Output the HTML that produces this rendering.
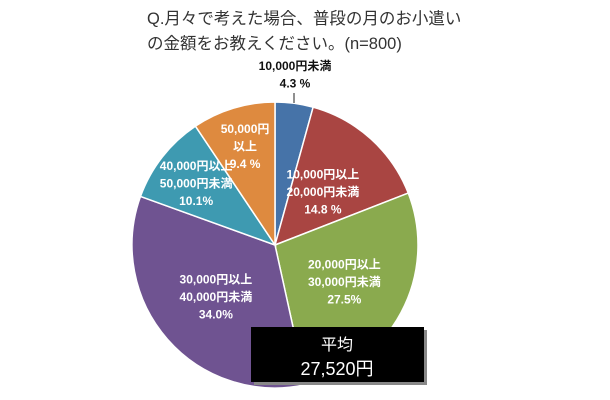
<!DOCTYPE html>
<html><head><meta charset="utf-8"><style>
body{margin:0;background:#fff;width:610px;height:400px;overflow:hidden;font-family:"Liberation Sans","Noto Sans CJK JP",sans-serif;}
</style></head><body>
<svg width="610" height="400" style="position:absolute;left:0;top:0">
<text x="147" y="24" font-size="16.5" fill="#333">Q.月々で考えた場合、普段の月のお小遣い</text>
<text x="147" y="49" font-size="16.5" fill="#333">の金額をお教えください。(n=800)</text>
<g id="slices"></g>
<line x1="294" y1="93" x2="294" y2="103" stroke="#222" stroke-width="1"/>
<g id="labels" font-size="12" font-weight="bold" text-anchor="middle"></g>
<rect x="254" y="330" width="173" height="55" fill="#888"/>
<rect x="251" y="327" width="173" height="55" fill="#000"/>
<text x="337" y="350" font-size="16" fill="#fff" text-anchor="middle">平均</text>
<text x="337" y="375" font-size="18" fill="#fff" text-anchor="middle">27,520円</text>
</svg>
<script>
const categories=["10,000円未満","10,000円以上20,000円未満","20,000円以上30,000円未満","30,000円以上40,000円未満","40,000円以上50,000円未満","50,000円以上"];
const values=[4.3,14.8,27.5,34.0,10.1,9.4];
const valueLabels=["4.3 %","14.8 %","27.5%","34.0%","10.1%","9.4 %"];
const labelLines=[["10,000円未満"],["10,000円以上","20,000円未満"],["20,000円以上","30,000円未満"],["30,000円以上","40,000円未満"],["40,000円以上","50,000円未満"],["50,000円","以上"]];
const colors=["#4673a8","#a94542","#8aaa4e","#6f5391","#3e9ab1","#de8a3f"];
const cx=275,cy=245,r=143;
const ns="http://www.w3.org/2000/svg";
const total=values.reduce((a,b)=>a+b,0);
const gs=document.getElementById('slices'),gl=document.getElementById('labels');
let a0=0;
values.forEach((v,i)=>{
  const a1=a0+v/total*2*Math.PI;
  const p=(a)=>[cx+r*Math.sin(a),cy-r*Math.cos(a)];
  const [x0,y0]=p(a0),[x1,y1]=p(a1);
  const path=document.createElementNS(ns,'path');
  path.setAttribute('d',`M${cx},${cy}L${x0},${y0}A${r},${r} 0 ${a1-a0>Math.PI?1:0} 1 ${x1},${y1}Z`);
  path.setAttribute('fill',colors[i]);path.setAttribute('stroke','#fff');path.setAttribute('stroke-width','1.5');
  
  
  gs.appendChild(path);
  const mid=(a0+a1)/2;
  let lx,ly,fill='#fff';
  if(i===0){lx=295;ly=62;fill='#111';}
  else{const rr=[0,0.5,0.55,0.55,0.7,0.72][i];lx=cx+r*rr*Math.sin(mid);ly=cy-r*rr*Math.cos(mid);}
  const lines=labelLines[i].concat([valueLabels[i]]);
  const startY=i===0?ly+8:ly-(lines.length-1)*17.5/2+4;
  lines.forEach((t,j)=>{
    const tx=document.createElementNS(ns,'text');
    tx.setAttribute('x',lx);tx.setAttribute('y',startY+j*17.5);tx.setAttribute('fill',fill);
    tx.textContent=t;
    
    
    gl.appendChild(tx);
  });
  a0=a1;
});
</script>
</body></html>
